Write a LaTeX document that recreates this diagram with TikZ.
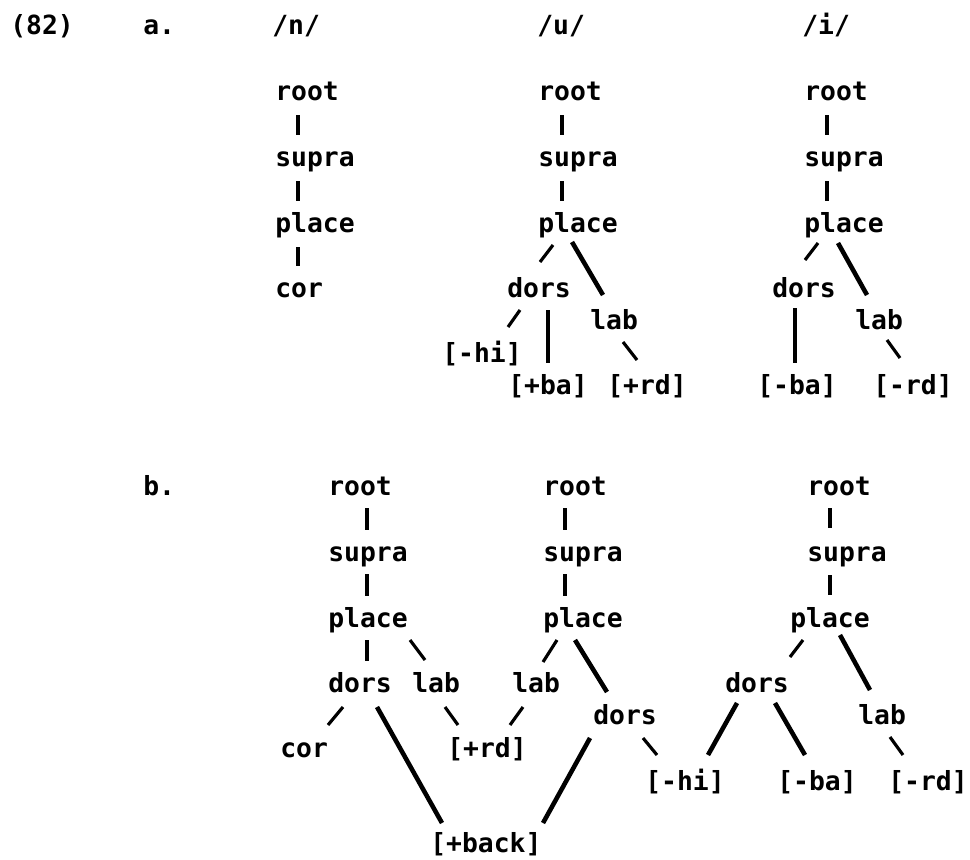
\documentclass[tikz,border=0pt]{standalone}
\usepackage{fontspec}
\setmonofont{DejaVu Sans Mono}
\usetikzlibrary{calc}

\begin{document}
\begin{tikzpicture}[
  x=0.02cm, y=-0.02cm,
  seg/.style={anchor=base west, inner sep=0pt,
    font=\ttfamily\bfseries\fontsize{15}{18}\selectfont},
  bar/.style={line width=1.8pt},
  heavy/.style={line width=2.6pt},
]
  \useasboundingbox (0,0) rectangle (970,859);

  % --- example number and headings ------------------------------------
  \node[seg] (ex) at (10,34) {(82)};
  \node[seg] (la) at (143,34) {a.};
  \node[seg] (hn) at (272,34) {/n/};
  \node[seg] (hu) at (537,34) {/u/};
  \node[seg] (hi) at (802,34) {/i/};

  % --- a. /n/ -----------------------------------------------------------
  \node[seg] (a1r) at (275,100) {root};
  \node[seg] (a1s) at (275,166) {supra};
  \node[seg] (a1p) at (275,232) {place};
  \node[seg] (a1c) at (275,297) {cor};
  \foreach \a/\b in {a1r/a1s,a1s/a1p,a1p/a1c}
    \draw[bar] ($(\a.base west)+(23,15)$) -- ($(\b.base west)+(23,-31)$);

  % --- a. /u/ -----------------------------------------------------------
  \node[seg] (a2r) at (538,100) {root};
  \node[seg] (a2s) at (538,166) {supra};
  \node[seg] (a2p) at (538,232) {place};
  \node[seg] (a2d) at (507,297) {dors};
  \node[seg] (a2l) at (590,329) {lab};
  \node[seg] (a2h) at (442,362) {[-hi]};
  \node[seg] (a2b) at (508,394) {[+ba]};
  \node[seg] (a2t) at (607,394) {[+rd]};
  \foreach \a/\b in {a2r/a2s,a2s/a2p}
    \draw[bar] ($(\a.base west)+(24,15)$) -- ($(\b.base west)+(24,-31)$);
  \draw[bar] ($(a2p.base west)+(15,13)$) -- ($(a2d.base west)+(33,-35)$);
  \draw[heavy] ($(a2p.base west)+(34,10)$) -- ($(a2l.base west)+(13,-34)$);
  \draw[bar] ($(a2d.base west)+(13,13)$) -- ($(a2h.base west)+(66,-35)$);
  \draw[heavy] ($(a2d.base west)+(41,13)$) -- ($(a2b.base west)+(40,-31)$);
  \draw[bar] ($(a2l.base west)+(33,13)$) -- ($(a2t.base west)+(30,-34)$);

  % --- a. /i/ -----------------------------------------------------------
  \node[seg] (a3r) at (804,100) {root};
  \node[seg] (a3s) at (804,166) {supra};
  \node[seg] (a3p) at (804,232) {place};
  \node[seg] (a3d) at (772,297) {dors};
  \node[seg] (a3l) at (855,329) {lab};
  \node[seg] (a3b) at (757,394) {[-ba]};
  \node[seg] (a3t) at (873,394) {[-rd]};
  \foreach \a/\b in {a3r/a3s,a3s/a3p}
    \draw[bar] ($(\a.base west)+(23,15)$) -- ($(\b.base west)+(23,-31)$);
  \draw[bar] ($(a3p.base west)+(14,11)$) -- ($(a3d.base west)+(33,-37)$);
  \draw[heavy] ($(a3p.base west)+(34,11)$) -- ($(a3l.base west)+(12,-34)$);
  \draw[heavy] ($(a3d.base west)+(23,11)$) -- ($(a3b.base west)+(38,-31)$);
  \draw[bar] ($(a3l.base west)+(32,11)$) -- ($(a3t.base west)+(27,-36)$);

  % --- b. first tree ----------------------------------------------------
  \node[seg] (lb) at (143,495) {b.};
  \node[seg] (b1r) at (328,495) {root};
  \node[seg] (b1s) at (328,561) {supra};
  \node[seg] (b1p) at (328,627) {place};
  \node[seg] (b1d) at (328,692) {dors};
  \node[seg] (b1l) at (412,692) {lab};
  \node[seg] (b1c) at (280,757) {cor};
  \node[seg] (b1t) at (447,757) {[+rd]};
  \node[seg] (back) at (430,852) {[+back]};
  \foreach \a/\b in {b1r/b1s,b1s/b1p,b1p/b1d}
    \draw[bar] ($(\a.base west)+(39,13)$) -- ($(\b.base west)+(39,-31)$);
  \draw[bar] ($(b1p.base west)+(82,13)$) -- ($(b1l.base west)+(13,-32)$);
  \draw[bar] ($(b1d.base west)+(15,15)$) -- ($(b1c.base west)+(48,-32)$);
  \draw[heavy] ($(b1d.base west)+(49,15)$) -- ($(back.base west)+(12,-29)$);
  \draw[bar] ($(b1l.base west)+(33,15)$) -- ($(b1t.base west)+(11,-32)$);

  % --- b. second tree ---------------------------------------------------
  \node[seg] (b2r) at (543,495) {root};
  \node[seg] (b2s) at (543,561) {supra};
  \node[seg] (b2p) at (543,627) {place};
  \node[seg] (b2l) at (512,692) {lab};
  \node[seg] (b2d) at (593,724) {dors};
  \node[seg] (b2h) at (645,790) {[-hi]};
  \foreach \a/\b in {b2r/b2s,b2s/b2p}
    \draw[bar] ($(\a.base west)+(22,13)$) -- ($(\b.base west)+(22,-31)$);
  \draw[bar] ($(b2p.base west)+(14,13)$) -- ($(b2l.base west)+(31,-30)$);
  \draw[heavy] ($(b2p.base west)+(32,13)$) -- ($(b2d.base west)+(14,-32)$);
  \draw[bar] ($(b2l.base west)+(11,15)$) -- ($(b1t.base west)+(63,-32)$);
  \draw[heavy] ($(b2d.base west)+(-3,14)$) -- ($(back.base west)+(113,-29)$);
  \draw[bar] ($(b2d.base west)+(50,14)$) -- ($(b2h.base west)+(12,-35)$);

  % --- b. third tree ----------------------------------------------------
  \node[seg] (b3r) at (807,495) {root};
  \node[seg] (b3s) at (807,561) {supra};
  \node[seg] (b3p) at (790,627) {place};
  \node[seg] (b3d) at (725,692) {dors};
  \node[seg] (b3l) at (858,724) {lab};
  \node[seg] (b3b) at (777,790) {[-ba]};
  \node[seg] (b3t) at (888,790) {[-rd]};
  \draw[bar] ($(b3r.base west)+(23,13)$) -- ($(b3s.base west)+(23,-33)$);
  \draw[bar] ($(b3s.base west)+(23,14)$) -- ($(b3p.base west)+(40,-32)$);
  \draw[bar] ($(b3p.base west)+(13,13)$) -- ($(b3d.base west)+(65,-35)$);
  \draw[heavy] ($(b3p.base west)+(50,8)$) -- ($(b3l.base west)+(12,-34)$);
  \draw[heavy] ($(b3d.base west)+(12,11)$) -- ($(b2h.base west)+(63,-35)$);
  \draw[heavy] ($(b3d.base west)+(50,11)$) -- ($(b3b.base west)+(28,-35)$);
  \draw[bar] ($(b3l.base west)+(32,13)$) -- ($(b3t.base west)+(15,-35)$);
\end{tikzpicture}
\end{document}
